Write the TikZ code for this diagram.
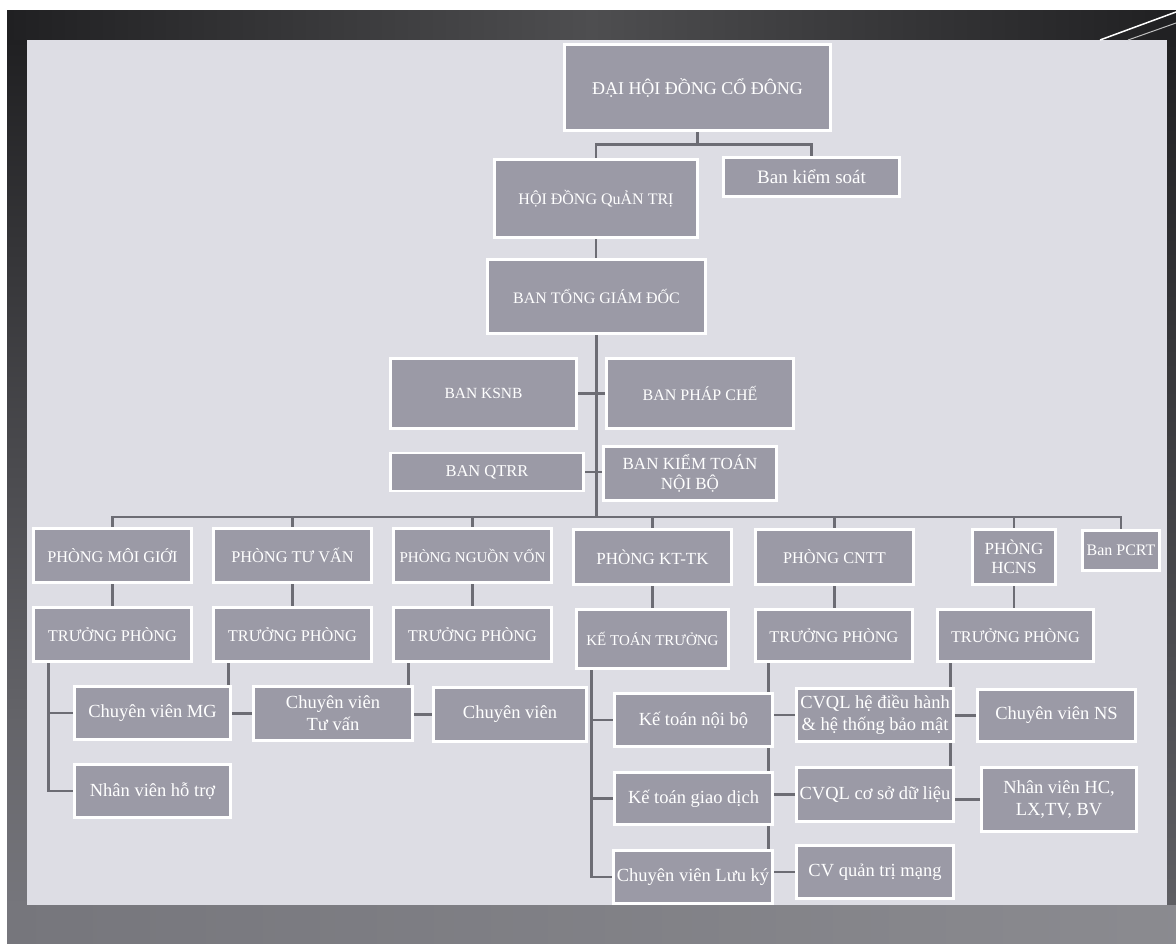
\documentclass[tikz,border=0pt]{standalone}
\usepackage{fontspec}
\setmainfont{Liberation Serif}
\definecolor{panelgray}{RGB}{221,221,228}
\definecolor{boxgray}{RGB}{155,154,166}
\definecolor{linegray}{RGB}{108,108,116}
\definecolor{framedark}{RGB}{32,32,34}
\definecolor{framemid}{RGB}{78,78,80}
\definecolor{framelow}{RGB}{118,118,124}
\pgfdeclarelayer{frame}
\pgfdeclarelayer{lines}
\pgfsetlayers{frame,lines,main}

\begin{document}
\begin{tikzpicture}[x=1pt,y=-1pt]
    % styles
    \tikzstyle{box}=[rectangle, draw=white, line width=2.5pt, fill=boxgray, text=white, inner sep=0.5pt, align=center]
    \tikzstyle{upper}=[box, font=\fontsize{16}{20}\selectfont]
    \tikzstyle{dept}=[box, font=\fontsize{16.3}{19}\selectfont]
    \tikzstyle{staff}=[box, font=\fontsize{18.5}{22}\selectfont]
    \tikzstyle{conn}=[draw=linegray, line width=2.6pt]
    \tikzset{wh/.style 2 args={minimum width=#1pt, minimum height=#2pt}}

    \useasboundingbox (0,0) rectangle (1176,943);

    % frame
    \begin{pgfonlayer}{frame}
        \fill[white] (0,0) rectangle (1176,943);
        \shade[left color=framedark, right color=framedark, middle color=framemid] (7,10) rectangle (1176,40);
        \shade[top color=framedark, bottom color=framelow] (7,40) rectangle (27,905);
        \shade[top color=framedark, bottom color=framelow!80!black] (1167,40) rectangle (1176,905);
        \shade[left color=framelow, right color=framelow!85!white] (7,905) rectangle (1176,943);
        \fill[panelgray] (27,40) rectangle (1167,905);
        \draw[white, line width=1.5pt] (1100,40) -- (1176,12);
        \draw[white!75!black, line width=1pt] (1128,40) -- (1176,23);
    \end{pgfonlayer}

    % top boxes
    \node[upper, wh={266}{86}, font=\fontsize{18}{22}\selectfont] (dhcd) at (697.5,87.5) {ĐẠI HỘI ĐỒNG CỔ ĐÔNG};
    \node[upper, wh={203}{78}] (hdqt) at (596,198.5) {HỘI ĐỒNG QuẢN TRỊ};
    \node[upper, wh={176}{39}, font=\fontsize{19}{22}\selectfont] (bks) at (811.5,177) {Ban kiểm soát};
    \node[upper, wh={218}{74}] (btgd) at (596.5,296.5) {BAN TỔNG GIÁM ĐỐC};
    \node[upper, wh={186}{70}, font=\fontsize{15.5}{19}\selectfont] (ksnb) at (483.5,393.5) {BAN KSNB};
    \node[upper, wh={187}{70}] (phapche) at (700,393.5) {BAN PHÁP CHẾ};
    \node[upper, wh={193}{38}, font=\fontsize{16.5}{20}\selectfont] (qtrr) at (487,472) {BAN QTRR};
    \node[upper, wh={173}{54}, font=\fontsize{17}{20}\selectfont] (ktnb) at (690,473.5) {BAN KIỂM TOÁN\\NỘI BỘ};

    % departments
    \node[dept, wh={158}{54}] (mg) at (112.5,555.5) {PHÒNG MÔI GIỚI};
    \node[dept, wh={158}{54}] (tv) at (292.5,555.5) {PHÒNG TƯ VẤN};
    \node[dept, wh={158}{54}, font=\fontsize{15}{19}\selectfont] (nv) at (472.5,555.5) {PHÒNG NGUỒN VỐN};
    \node[dept, wh={158}{55}, font=\fontsize{17}{19}\selectfont] (kt) at (652.5,557) {PHÒNG KT-TK};
    \node[dept, wh={158}{55}] (cntt) at (834.5,557) {PHÒNG CNTT};
    \node[dept, wh={83}{55}, font=\fontsize{17}{19}\selectfont] (hcns) at (1014,557) {PHÒNG\\HCNS};
    \node[dept, wh={77}{40}, font=\fontsize{16}{19}\selectfont] (pcrt) at (1121,550.5) {Ban PCRT};

    % heads
    \node[dept, wh={158}{54}] (tpmg) at (112.5,634.5) {TRƯỞNG PHÒNG};
    \node[dept, wh={158}{54}] (tptv) at (292.5,634.5) {TRƯỞNG PHÒNG};
    \node[dept, wh={158}{54}] (tpnv) at (472.5,634.5) {TRƯỞNG PHÒNG};
    \node[dept, wh={152}{59}, font=\fontsize{15}{19}\selectfont] (ktt) at (652.5,639) {KẾ TOÁN TRƯỞNG};
    \node[dept, wh={157}{52}] (tpcntt) at (834,635.5) {TRƯỞNG PHÒNG};
    \node[dept, wh={156}{52}] (tphcns) at (1015.5,635.5) {TRƯỞNG PHÒNG};

    % staff
    \node[staff, wh={156}{53}] (cvmg) at (152.5,713) {Chuyên viên MG};
    \node[staff, wh={156}{53}] (nvht) at (152.5,791) {Nhân viên hỗ trợ};
    \node[staff, wh={159}{54}] (cvtv) at (333,713.5) {Chuyên viên\\Tư vấn};
    \node[staff, wh={153}{54}] (cvnv) at (510,714.5) {Chuyên viên};
    \node[staff, wh={158}{53}] (ktnoibo) at (693.5,720) {Kế toán nội bộ};
    \node[staff, wh={158}{52}] (ktgd) at (693.5,798.5) {Kế toán giao dịch};
    \node[staff, wh={159}{53}] (cvlk) at (693,877) {Chuyên viên Lưu ký};
    \node[staff, wh={157}{53}] (cvql1) at (875,715) {CVQL hệ điều hành\\\& hệ thống bảo mật};
    \node[staff, wh={157}{54}] (cvql2) at (875,794.5) {CVQL cơ sở dữ liệu};
    \node[staff, wh={157}{53}] (cvqtm) at (875,872) {CV quản trị mạng};
    \node[staff, wh={158}{52}] (cvns) at (1056.5,715.5) {Chuyên viên NS};
    \node[staff, wh={155}{64}] (nvhc) at (1059,799.5) {Nhân viên HC,\\LX,TV, BV};

    % connectors
    \begin{pgfonlayer}{lines}
        \draw[conn] (dhcd.south) -- ++(0,13) -| (hdqt.north);
        \draw[conn] (dhcd.south) ++(0,13) -| (bks.north);
        \draw[conn] (hdqt.south) -- (hdqt.south |- btgd.north);
        \coordinate (bus) at (596.5,517);
        \draw[conn] (btgd.south) -- (bus);
        \draw[conn] (ksnb.east) -- (phapche.west);
        \draw[conn] (qtrr.east) -- (qtrr.east -| ktnb.west);
        \foreach \dep in {mg,tv,nv,kt,cntt,hcns,pcrt}
            \draw[conn] (bus) -| (\dep.north);
        \foreach \dep/\head in {mg/tpmg,tv/tptv,nv/tpnv,kt/ktt,cntt/tpcntt,hcns/tphcns}
            \draw[conn] (\dep.south) -- (\dep.south |- \head.north);
        \foreach \staff in {cvmg,nvht}
            \draw[conn] ([xshift=16pt]tpmg.south west) |- (\staff.west);
        \draw[conn] ([xshift=16pt]tptv.south west) |- (cvtv.west);
        \draw[conn] ([xshift=16pt]tpnv.south west) |- (cvnv.west);
        \foreach \staff in {ktnoibo,ktgd,cvlk}
            \draw[conn] ([xshift=16pt]ktt.south west) |- (\staff.west);
        \foreach \staff in {cvql1,cvql2,cvqtm}
            \draw[conn] ([xshift=14pt]tpcntt.south west) |- (\staff.west);
        \foreach \staff in {cvns,nvhc}
            \draw[conn] ([xshift=14pt]tphcns.south west) |- (\staff.west);
    \end{pgfonlayer}
\end{tikzpicture}
\end{document}
